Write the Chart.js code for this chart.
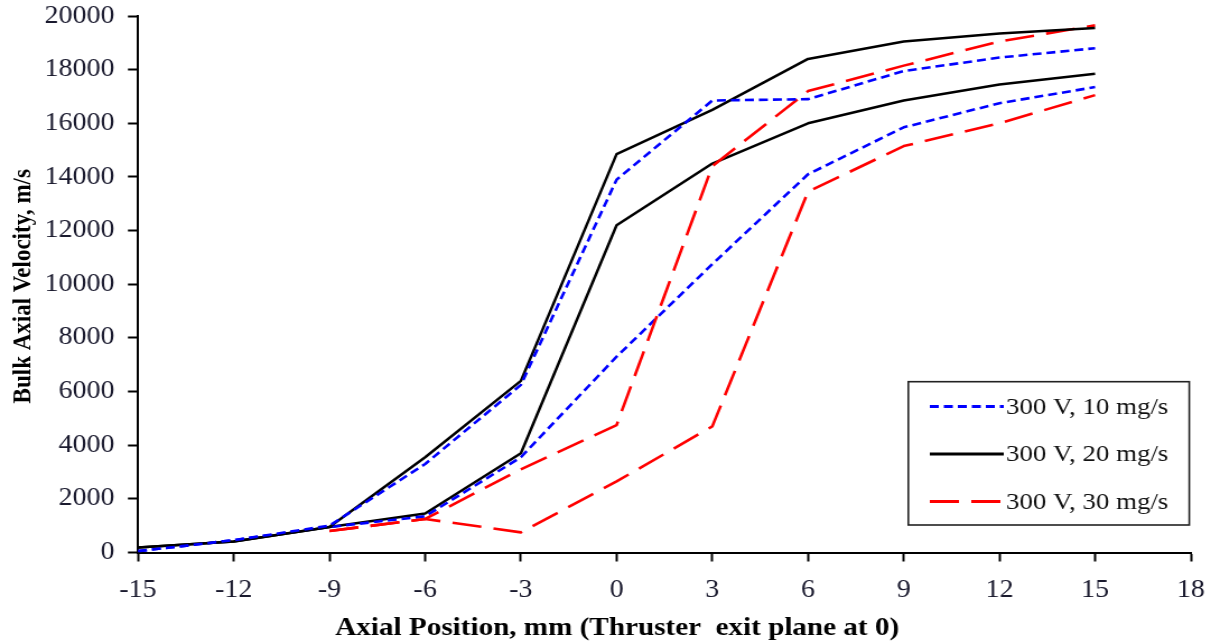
<!DOCTYPE html>
<html>
<head>
<meta charset="utf-8">
<script src="https://cdn.jsdelivr.net/npm/chart.js@4.4.0/dist/chart.umd.min.js"></script>
<style>
  html, body { margin: 0; padding: 0; background: #ffffff; overflow: hidden; }
</style>
</head>
<body>
<!-- drawn on a 1081px-wide canvas and shown 1211px wide (slightly widened figure) -->
<canvas id="chart" width="1081" height="643" style="display:block;width:1211px;height:643px"></canvas>
<script>
// Axial positions (mm), thruster exit plane at 0
const positions = [-15, -12, -9, -6, -3, 0, 3, 6, 9, 12, 15];

// Bulk axial velocity (m/s), two profiles per operating condition
const v10_upper = [50, 460, 1000, 3300, 6250, 13900, 16850, 16900, 17950, 18450, 18800];
const v10_lower = [50, 460, 950, 1350, 3550, 7300, 10750, 14100, 15850, 16750, 17350];
const v20_upper = [190, 410, 950, 3550, 6400, 14850, 16500, 18400, 19050, 19350, 19550];
const v20_lower = [190, 410, 950, 1450, 3700, 12200, 14500, 16000, 16850, 17450, 17850];
const v30_upper = [null, null, 800, 1250, 3100, 4750, 14400, 17200, 18150, 19050, 19650];
const v30_lower = [null, null, 800, 1250, 750, 2650, 4700, 13450, 15150, 16000, 17050];

// Axis ticks
const xTicks = [-15, -12, -9, -6, -3, 0, 3, 6, 9, 12, 15, 18];
const yTicks = [0, 2000, 4000, 6000, 8000, 10000, 12000, 14000, 16000, 18000, 20000];

const legendLabels = ['300 V, 10 mg/s', '300 V, 20 mg/s', '300 V, 30 mg/s'];
const xTitle = 'Axial Position, mm (Thruster  exit plane at 0)';
const yTitle = 'Bulk Axial Velocity, m/s';

const toPoints = arr => positions.map((x, i) => ({ x: x, y: arr[i] }));

const styleBlue  = { borderColor: '#0000ff', borderWidth: 2.6, borderDash: [8, 4.5] };
const styleBlack = { borderColor: '#000000', borderWidth: 2.5, borderDash: [] };
const styleRed   = { borderColor: '#ff0000', borderWidth: 2.6, borderDash: [26, 11] };

function makeSet(label, values, style) {
  return Object.assign({
    label: label,
    data: toPoints(values),
    pointRadius: 0,
    pointHoverRadius: 0,
    tension: 0,
    fill: false,
    borderCapStyle: 'butt',
    borderJoinStyle: 'round'
  }, style);
}

const datasets = [
  makeSet(legendLabels[0], v10_upper, styleBlue),
  makeSet(legendLabels[1], v20_upper, styleBlack),
  makeSet(legendLabels[2], v30_upper, styleRed),
  makeSet(legendLabels[0], v10_lower, styleBlue),
  makeSet(legendLabels[1], v20_lower, styleBlack),
  makeSet(legendLabels[2], v30_lower, styleRed)
];

const SERIF = '"Liberation Serif", "Times New Roman", serif';

// Boxed legend inside the plot plus the two axis titles
const annotations = {
  id: 'annotations',
  afterDraw(chart) {
    const ctx = chart.ctx;
    const area = chart.chartArea;
    ctx.save();

    // legend box
    const bx = 810.8, by = 381.7, bw = 250.8, bh = 143.3;
    ctx.fillStyle = '#ffffff';
    ctx.fillRect(bx, by, bw, bh);
    ctx.strokeStyle = '#222222';
    ctx.lineWidth = 1.6;
    ctx.strokeRect(bx, by, bw, bh);

    const rowsY = [406.5, 454, 501.5];
    ctx.font = '24px ' + SERIF;
    ctx.textAlign = 'left';
    ctx.textBaseline = 'middle';
    for (let i = 0; i < 3; i++) {
      const ds = chart.data.datasets[i];
      ctx.beginPath();
      ctx.setLineDash(ds.borderDash);
      ctx.lineDashOffset = 0;
      ctx.strokeStyle = ds.borderColor;
      ctx.lineWidth = ds.borderWidth + 0.4;
      ctx.moveTo(830, rowsY[i]);
      ctx.lineTo(896, rowsY[i]);
      ctx.stroke();
      ctx.setLineDash([]);
      ctx.fillStyle = '#111111';
      ctx.fillText(legendLabels[i], 898, rowsY[i] + 1);
    }

    // axis titles
    ctx.fillStyle = '#000000';
    ctx.font = 'bold 26px ' + SERIF;
    ctx.textAlign = 'center';
    ctx.textBaseline = 'alphabetic';
    ctx.fillText(xTitle, 551, 635);

    ctx.translate(27, (area.top + area.bottom) / 2 + 2);
    ctx.rotate(-Math.PI / 2);
    ctx.font = 'bold 23px ' + SERIF;
    ctx.fillText(yTitle, 0, 0);
    ctx.restore();
  }
};

new Chart(document.getElementById('chart'), {
  type: 'line',
  data: { datasets: datasets },
  plugins: [annotations],
  options: {
    responsive: false,
    animation: false,
    devicePixelRatio: 1,
    layout: { padding: { left: 0, right: 18, top: 16, bottom: 0 } },
    plugins: {
      legend: { display: false },
      tooltip: { enabled: false },
      title: { display: false }
    },
    scales: {
      x: {
        type: 'linear',
        min: -15,
        max: 18,
        afterBuildTicks: scale => { scale.ticks = xTicks.map(v => ({ value: v })); },
        afterFit: scale => {
          scale.height = 90.5;
          scale.paddingLeft = 0;
          scale.paddingRight = 0;
        },
        ticks: {
          color: '#1a1a2e',
          font: { family: SERIF, size: 25 },
          padding: 14,
          maxRotation: 0,
          autoSkip: false,
          callback: v => String(v)
        },
        grid: {
          drawOnChartArea: false,
          drawTicks: true,
          tickLength: 9,
          tickWidth: 2,
          tickColor: '#000000'
        },
        border: { display: true, color: '#000000', width: 2 }
      },
      y: {
        type: 'linear',
        min: 0,
        max: 20000,
        afterBuildTicks: scale => { scale.ticks = yTicks.map(v => ({ value: v })); },
        afterFit: scale => {
          scale.width = 123.2;
          scale.paddingTop = 0;
          scale.paddingBottom = 0;
        },
        ticks: {
          color: '#1a1a2e',
          font: { family: SERIF, size: 25 },
          padding: 12,
          autoSkip: false,
          callback: v => String(v)
        },
        grid: {
          drawOnChartArea: false,
          drawTicks: true,
          tickLength: 9,
          tickWidth: 2,
          tickColor: '#000000'
        },
        border: { display: true, color: '#000000', width: 2 }
      }
    }
  }
});
</script>
</body>
</html>
